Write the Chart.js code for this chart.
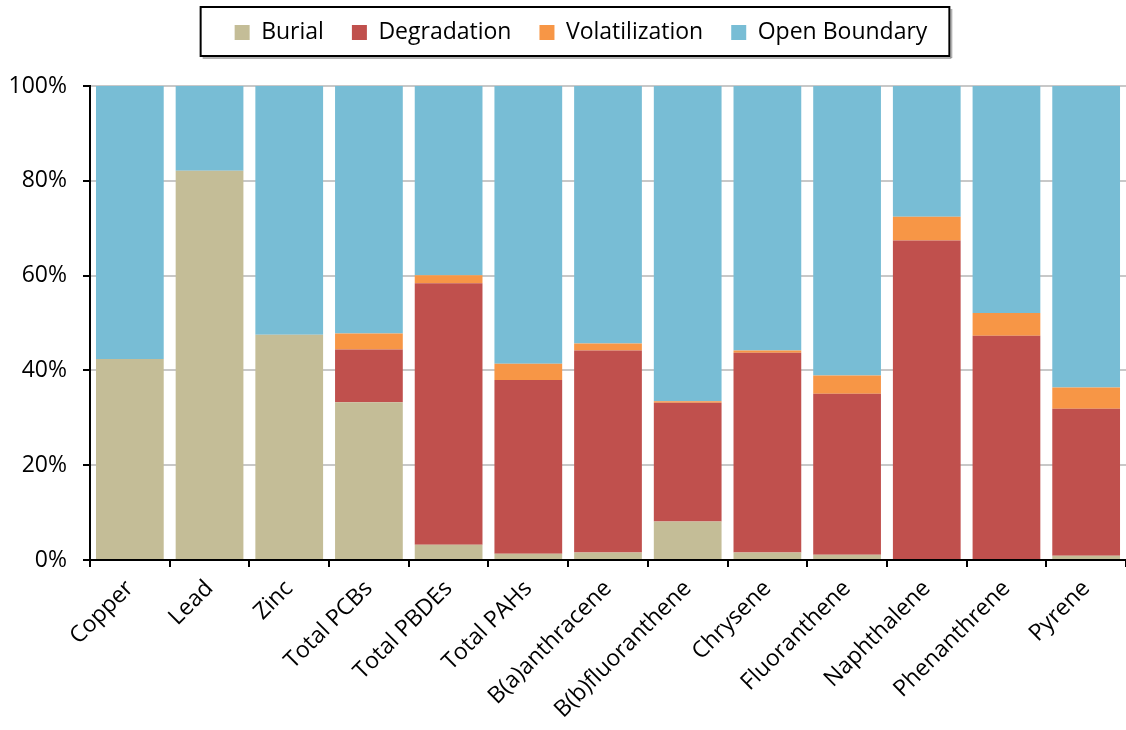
<!DOCTYPE html>
<html>
<head>
<meta charset="utf-8">
<script src="https://cdn.jsdelivr.net/npm/chart.js@4"></script>
<style>
html,body{margin:0;padding:0;background:#fff;}
#wrap{width:1126px;height:730px;position:relative;}
</style>
</head>
<body>
<div id="wrap"><canvas id="c" width="1126" height="730"></canvas></div>
<script>
const categories = ["Copper","Lead","Zinc","Total PCBs","Total PBDEs","Total PAHs","B(a)anthracene","B(b)fluoranthene","Chrysene","Fluoranthene","Naphthalene","Phenanthrene","Pyrene"];
const burial =        [42.4, 82.1, 47.5, 33.3, 3.2, 1.3, 1.6, 8.1, 1.6, 1.1, 0.0, 0.0, 0.9];
const degradation =   [0.0, 0.0, 0.0, 11.1, 55.2, 36.7, 42.6, 25.1, 42.1, 34.0, 67.4, 47.3, 31.0];
const volatilization =[0.0, 0.0, 0.0, 3.4, 1.7, 3.4, 1.5, 0.3, 0.5, 3.8, 5.0, 4.8, 4.5];
const openBoundary = categories.map((_, i) => Math.round((100 - burial[i] - degradation[i] - volatilization[i]) * 10) / 10);
const yTicks = [0, 20, 40, 60, 80, 100];

const FONT = "'Open Sans', sans-serif";
const LEGEND_SHIFT_X = 18;

const legendBorder = {
  id: 'legendBorder',
  beforeInit(chart) {
    const lg = chart.legend;
    if (lg) {
      const origFit = lg.fit.bind(lg);
      lg.fit = function () { origFit(); this.height = 86; };
      const origDraw = lg.draw.bind(lg);
      lg.draw = function () {
        const ctx = this.ctx;
        ctx.save();
        ctx.translate(LEGEND_SHIFT_X, -7);
        origDraw();
        ctx.restore();
      };
    }
  },
  afterDraw(chart) {
    const lg = chart.legend;
    if (!lg || !lg.legendHitBoxes || !lg.legendHitBoxes.length) return;
    const hb = lg.legendHitBoxes;
    let l = Infinity, r = -Infinity;
    hb.forEach(h => { l = Math.min(l, h.left); r = Math.max(r, h.left + h.width); });
    const x0 = l - 34 + LEGEND_SHIFT_X, x1 = r + 22 + LEGEND_SHIFT_X, y0 = 7, y1 = 56;
    const ctx = chart.ctx;
    ctx.save();
    ctx.fillStyle = 'rgba(0,0,0,0.3)';
    ctx.fillRect(x0 + 2, y1 + 1, x1 - x0, 2);
    ctx.fillRect(x1 + 1, y0 + 2, 2, y1 - y0);
    ctx.strokeStyle = '#000';
    ctx.lineWidth = 2;
    ctx.strokeRect(x0, y0, x1 - x0, y1 - y0);
    ctx.restore();
  }
};

new Chart(document.getElementById('c'), {
  type: 'bar',
  data: {
    labels: categories,
    datasets: [
      { label: 'Burial', data: burial, backgroundColor: '#C4BD97' },
      { label: 'Degradation', data: degradation, backgroundColor: '#C0504D' },
      { label: 'Volatilization', data: volatilization, backgroundColor: '#F79646' },
      { label: 'Open Boundary', data: openBoundary, backgroundColor: '#78BDD5' }
    ]
  },
  options: {
    responsive: false,
    animation: false,
    devicePixelRatio: 1,
    layout: { padding: { left: 0, right: 0, top: 0, bottom: 0 } },
    datasets: { bar: { categoryPercentage: 1.0, barPercentage: 0.85, borderWidth: 0 } },
    plugins: {
      tooltip: { enabled: false },
      legend: {
        position: 'top',
        labels: {
          boxWidth: 15, boxHeight: 15, padding: 28,
          color: '#000',
          font: { family: FONT, size: 23 }
        }
      }
    },
    scales: {
      x: {
        stacked: true,
        offset: true,
        grid: { display: true, drawOnChartArea: false, drawTicks: true, tickLength: 7, color: '#000', lineWidth: 2, offset: true },
        border: { display: true, color: '#000', width: 2 },
        ticks: { color: '#000', font: { family: FONT, size: 23 }, minRotation: 45, maxRotation: 45, autoSkip: false, padding: 8 },
        afterFit(s) { s.height = 170; }
      },
      y: {
        stacked: true,
        min: 0, max: 100,
        afterBuildTicks(s) { s.ticks = yTicks.map(v => ({ value: v })); },
        grid: { color: '#C8C8C8', lineWidth: 2, drawTicks: true, tickLength: 7, tickColor: '#000' },
        border: { display: true, color: '#000', width: 2 },
        ticks: { color: '#000', font: { family: FONT, size: 23 }, padding: 16, callback: v => v + '%' },
        afterFit(s) { s.width = 90; }
      }
    }
  },
  plugins: [legendBorder]
});
</script>
</body>
</html>
